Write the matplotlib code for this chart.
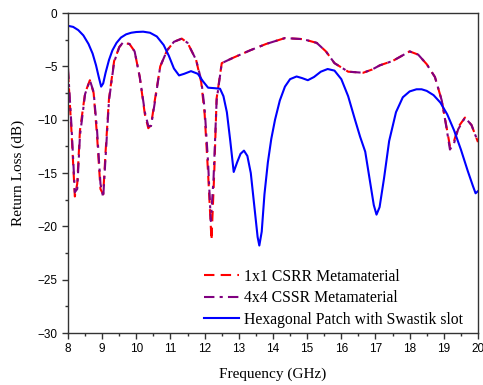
import matplotlib
matplotlib.use("Agg")
import matplotlib.pyplot as plt
from matplotlib.ticker import MultipleLocator

# Hexagonal patch with Swastik slot (blue)
freq_hex = [8.0, 8.15, 8.3, 8.45, 8.6, 8.72, 8.82, 8.9, 8.97, 9.03, 9.1, 9.2, 9.3, 9.42, 9.55,
            9.7, 9.85, 10.0, 10.2,
            10.4, 10.6, 10.8, 10.95, 11.1, 11.25, 11.4, 11.6, 11.8, 11.95, 12.1, 12.3, 12.45,
            12.55, 12.65, 12.75, 12.85, 12.95, 13.05, 13.15, 13.25, 13.35, 13.45, 13.55, 13.6,
            13.67, 13.75, 13.85, 13.95, 14.06, 14.2, 14.35, 14.5, 14.69, 14.85, 15.02, 15.2,
            15.4, 15.6, 15.8, 16.0, 16.2, 16.4, 16.55, 16.7, 16.85, 16.95, 17.03, 17.12, 17.25,
            17.4, 17.6, 17.8, 18.0, 18.2, 18.35, 18.5, 18.7, 18.9, 19.1, 19.3, 19.5, 19.7,
            19.85, 19.93, 20.0]
rl_hex = [-1.2, -1.3, -1.6, -2.1, -2.9, -3.8, -4.9, -6.0, -6.9, -6.6, -5.6, -4.4, -3.5, -2.8, -2.3,
          -2.0, -1.85, -1.78, -1.75,
          -1.85, -2.2, -3.0, -4.0, -5.2, -5.85, -5.7, -5.45, -5.7, -6.4, -7.0, -7.05, -7.1,
          -7.8, -9.3, -12.0, -14.9, -14.0, -13.2, -12.9, -13.4, -15.0, -18.0, -21.0, -21.8,
          -20.5, -17.0, -14.0, -11.8, -10.0, -8.2, -6.9, -6.2, -5.95, -6.1, -6.3, -6.0,
          -5.5, -5.25, -5.4, -6.2, -7.8, -10.0, -11.6, -13.0, -16.0, -18.0, -18.9, -18.2, -15.5,
          -12.0, -9.3, -7.9, -7.35, -7.15, -7.15, -7.3, -7.7, -8.4, -9.5, -11.0, -12.8, -14.8,
          -16.2, -16.9, -16.7]

# 1x1 CSRR Metamaterial (red dashed)
freq_1x1 = [8.0, 8.1, 8.2, 8.27, 8.35, 8.5, 8.64, 8.75, 8.85, 8.95, 9.03, 9.1, 9.2, 9.35, 9.5,
            9.6, 9.8, 9.95, 10.1, 10.25, 10.35, 10.43, 10.55, 10.7, 10.9, 11.1, 11.33, 11.5,
            11.75, 11.9, 12.0, 12.1, 12.2, 12.28, 12.35, 12.5, 12.83, 13.33, 13.8, 14.35,
            14.88, 15.28, 15.55, 15.8, 16.2, 16.64, 16.9, 17.13, 17.5, 18.0, 18.25, 18.5,
            18.74, 18.94, 19.08, 19.18, 19.3, 19.42, 19.62, 19.81, 20.0]
rl_1x1 = [-5.5, -11.0, -17.2, -16.0, -11.0, -7.5, -6.3, -7.5, -11.5, -16.5, -17.0, -13.0, -8.0, -4.5, -3.2,
          -2.8, -2.9, -3.6, -6.0, -9.5, -10.8, -10.5, -8.0, -5.0, -3.5, -2.7, -2.4, -2.8,
          -4.4, -6.5, -9.5, -15.0, -21.3, -15.0, -8.0, -4.7, -4.2, -3.5, -2.9, -2.35,
          -2.45, -2.8, -3.6, -4.7, -5.5, -5.6, -5.3, -4.9, -4.5, -3.6, -3.9, -4.8,
          -6.0, -8.2, -10.7, -12.5, -12.0, -10.7, -9.8, -10.5, -12.1]

# 4x4 CSSR Metamaterial (purple dash-dot)
freq_4x4 = [8.0, 8.1, 8.2, 8.27, 8.35, 8.5, 8.64, 8.75, 8.85, 8.95, 9.03, 9.1, 9.2, 9.35, 9.5,
            9.6, 9.8, 9.95, 10.1, 10.25, 10.35, 10.43, 10.55, 10.7, 10.9, 11.1, 11.33, 11.5,
            11.75, 11.9, 12.0, 12.1, 12.18, 12.26, 12.35, 12.5, 12.83, 13.33, 13.8, 14.35,
            14.88, 15.28, 15.55, 15.8, 16.2, 16.64, 16.9, 17.13, 17.5, 18.0, 18.25, 18.5,
            18.74, 18.94, 19.08, 19.18, 19.3, 19.42, 19.62, 19.81, 20.0]
rl_4x4 = [-5.2, -10.5, -16.8, -16.5, -11.5, -7.6, -6.3, -7.4, -11.0, -16.0, -17.3, -13.5, -8.2, -4.6, -3.2,
          -2.8, -2.9, -3.6, -6.0, -9.3, -10.6, -10.6, -8.2, -5.0, -3.5, -2.7, -2.4, -2.8,
          -4.4, -6.3, -9.0, -14.0, -19.5, -15.5, -8.2, -4.7, -4.2, -3.5, -2.9, -2.35,
          -2.45, -2.8, -3.6, -4.7, -5.5, -5.6, -5.3, -4.9, -4.5, -3.6, -3.9, -4.8,
          -6.0, -8.2, -10.8, -12.8, -12.2, -10.9, -9.8, -10.5, -12.1]

labels = ["1x1 CSRR Metamaterial", "4x4 CSSR Metamaterial", "Hexagonal Patch with Swastik slot"]

fig = plt.figure(figsize=(4.83, 3.85), dpi=100)
ax = fig.add_axes([0.1408, 0.135, 0.8488, 0.8312])

ax.plot(freq_1x1, rl_1x1, color="#ff0000", lw=1.5, dashes=(5, 3), label=labels[0])
ax.plot(freq_4x4, rl_4x4, color="#800080", lw=1.5, dashes=(5, 2.5, 1.5, 2.5), label=labels[1])
ax.plot(freq_hex, rl_hex, color="#0000ff", lw=1.5, label=labels[2])

ax.set_xlim(8, 20)
ax.set_ylim(-30, 0)
ax.xaxis.set_major_locator(MultipleLocator(1))
ax.xaxis.set_minor_locator(MultipleLocator(0.5))
ax.yaxis.set_major_locator(MultipleLocator(5))
ax.yaxis.set_minor_locator(MultipleLocator(2.5))
ax.tick_params(which="both", direction="out", colors="#333333", labelcolor="black",
               top=False, right=False)
ax.tick_params(which="major", length=4, width=1, labelsize=8.5)
ax.tick_params(which="minor", length=2.5, width=1)
for lab in ax.get_xticklabels() + ax.get_yticklabels():
    lab.set_family("Liberation Sans")
for s in ax.spines.values():
    s.set_color("#333333")
    s.set_linewidth(1.0)

ax.set_xlabel("Frequency (GHz)", family="Liberation Serif", fontsize=11, labelpad=9)
ax.set_ylabel("Return Loss (dB)", family="Liberation Serif", fontsize=11, labelpad=9)

leg = ax.legend(loc="lower right", bbox_to_anchor=(0.997, -0.028), frameon=False,
                prop={"family": "Liberation Serif", "size": 11.3},
                handlelength=2.2, handletextpad=0.3, labelspacing=0.35)

fig.savefig("out.png", dpi=100)
